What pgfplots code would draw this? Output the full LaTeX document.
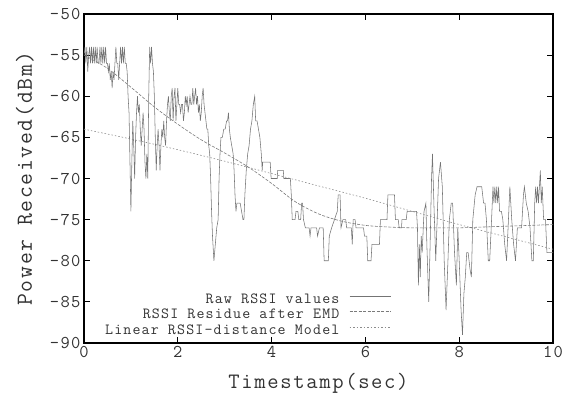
\documentclass[border=0pt]{standalone}
\usepackage{fontspec}
\usepackage{pgfplots}
\pgfplotsset{compat=1.18}
\newfontfamily\monofont{Latin Modern Mono}[LetterSpace=7.5]
\definecolor{txt}{HTML}{333333}
\definecolor{rawc}{HTML}{747474}
\definecolor{emdc}{HTML}{7A7A7A}
\definecolor{linc}{HTML}{8C8C8C}
\pgfplotstableread{
t v
0.00 -55
0.02 -54
0.04 -56
0.06 -54
0.08 -57
0.10 -55
0.12 -54
0.14 -56
0.16 -54
0.18 -56
0.20 -54
0.22 -56
0.24 -54
0.26 -56
0.28 -54
0.30 -56
0.32 -56
0.34 -54
0.36 -56
0.38 -54
0.40 -56
0.42 -54
0.44 -56
0.46 -54
0.48 -56
0.50 -56
0.52 -57
0.54 -56
0.56 -58
0.58 -57
0.60 -59
0.62 -57
0.64 -58
0.66 -56
0.68 -54
0.70 -56
0.72 -56
0.74 -58
0.76 -56
0.78 -54
0.80 -56
0.82 -54
0.84 -56
0.86 -54
0.88 -56
0.90 -56
0.92 -57
0.94 -60
0.96 -62
0.98 -68
1.00 -74
1.02 -68
1.04 -63
1.06 -66
1.08 -70
1.10 -65
1.12 -62
1.14 -60
1.16 -62
1.18 -61
1.20 -64
1.22 -66
1.24 -64
1.26 -62
1.28 -64
1.30 -68
1.32 -70
1.34 -67
1.36 -70
1.38 -60
1.40 -54
1.42 -56
1.44 -54
1.46 -56
1.48 -57
1.50 -60
1.52 -65
1.54 -69
1.56 -66
1.58 -64
1.60 -66
1.62 -69
1.64 -66
1.66 -64
1.68 -65
1.70 -63
1.72 -65
1.74 -66
1.76 -63
1.78 -61
1.80 -60
1.82 -62
1.84 -63
1.86 -60
1.88 -59
1.90 -63
1.92 -60
1.94 -59
1.96 -63
1.98 -61
2.00 -59
2.02 -61
2.04 -61
2.06 -62
2.08 -61
2.10 -61
2.12 -63
2.14 -62
2.16 -60
2.18 -61
2.20 -60
2.22 -62
2.24 -61
2.26 -60
2.28 -61
2.30 -61
2.32 -59
2.34 -61
2.36 -60
2.38 -59
2.40 -61
2.42 -60
2.44 -62
2.46 -61
2.48 -63
2.50 -62
2.52 -60
2.54 -59
2.56 -61
2.58 -62
2.60 -63
2.62 -64
2.64 -64
2.66 -66
2.68 -67
2.70 -70
2.72 -74
2.74 -77
2.77 -80
2.80 -78
2.83 -76
2.86 -75
2.88 -70
2.90 -67
2.92 -65
2.95 -65
2.98 -64
3.01 -64
3.04 -63
3.06 -63
3.08 -62
3.10 -64
3.12 -65
3.15 -66
3.18 -67
3.20 -69
3.22 -72
3.24 -74
3.26 -73
3.30 -73
3.33 -73
3.36 -74
3.39 -75
3.41 -75
3.43 -72
3.46 -69
3.49 -67
3.52 -66
3.55 -64
3.58 -63
3.61 -61
3.64 -60
3.66 -63
3.69 -63
3.72 -64
3.75 -65
3.78 -67
3.80 -69
3.81 -68
3.97 -68
3.99 -70
4.12 -70
4.13 -69
4.25 -69
4.26 -70
4.40 -70
4.42 -72
4.44 -75
4.50 -75
4.52 -74
4.56 -74
4.58 -75
4.62 -75
4.64 -73
4.66 -73
4.68 -75
4.72 -76
4.80 -76
4.82 -77
4.84 -76
4.96 -76
4.98 -77
5.02 -76
5.10 -76
5.12 -80
5.21 -80
5.23 -77
5.28 -76
5.34 -75
5.40 -74
5.42 -72
5.46 -72
5.48 -76
5.52 -75
5.58 -75
5.60 -76
5.70 -76
5.72 -78
5.74 -75
5.78 -75
5.80 -76
5.96 -76
5.98 -77
6.03 -77
6.05 -80
6.12 -80
6.14 -78
6.30 -78
6.32 -75
6.46 -75
6.48 -72
6.62 -72
6.64 -75
6.70 -75
6.72 -76
6.77 -76
6.78 -75
6.87 -75
6.89 -74
7.09 -74
7.11 -76
7.13 -83
7.15 -78
7.17 -82
7.19 -77
7.21 -79
7.25 -74
7.29 -73
7.31 -78
7.35 -85
7.38 -78
7.41 -70
7.43 -67
7.46 -73
7.50 -80
7.53 -75
7.56 -70
7.60 -68
7.64 -71
7.68 -80
7.72 -86
7.76 -80
7.79 -75
7.83 -73
7.86 -73
7.90 -79
7.94 -83
7.97 -76
8.00 -80
8.04 -86
8.07 -89
8.10 -84
8.13 -82
8.16 -79
8.19 -79
8.23 -81
8.26 -82
8.29 -75
8.34 -72
8.38 -71
8.45 -71
8.48 -71
8.52 -73
8.55 -73
8.58 -75
8.62 -80
8.65 -80
8.69 -75
8.72 -71
8.74 -73
8.76 -71
8.78 -73
8.80 -71
8.82 -73
8.84 -71
8.86 -74
8.90 -74
8.93 -75
8.97 -78
9.01 -80
9.05 -75
9.08 -71
9.12 -75
9.16 -78
9.20 -80
9.24 -76
9.29 -76
9.33 -76
9.37 -72
9.39 -71
9.43 -73
9.47 -74
9.51 -76
9.55 -80
9.58 -80
9.61 -73
9.63 -71
9.65 -73
9.67 -71
9.69 -73
9.71 -71
9.73 -69
9.75 -73
9.77 -71
9.80 -75
9.84 -75
9.87 -79
10.00 -79
}\rawdata
\pgfplotstableread{
t v
0.0 -55.0
0.5 -56.6
1.0 -58.9
1.5 -61.3
2.0 -63.4
2.5 -65.3
3.0 -66.9
3.5 -68.6
4.0 -70.6
4.5 -72.8
5.0 -74.3
5.5 -75.2
6.0 -75.7
6.5 -75.9
7.0 -76.0
7.5 -76.0
8.0 -76.0
8.5 -75.9
9.0 -75.8
9.5 -75.7
10.0 -75.6
}\emddata
\pgfplotstableread{
t v
0 -64.0
1 -65.2
2 -66.5
3 -67.9
4 -69.4
5 -70.9
6 -72.4
7 -74.0
8 -75.6
9 -77.1
10 -78.6
}\lindata
\begin{document}
\begin{tikzpicture}
\begin{axis}[
  width=469pt, height=329pt, scale only axis,
  xmin=0, xmax=10, ymin=-90, ymax=-50,
  xtick={0,2,4,6,8,10}, ytick={-90,-85,-80,-75,-70,-65,-60,-55,-50},
  tick align=inside, major tick length=6pt,
  axis line style={line width=1.1pt},
  every tick/.style={black, line width=0.8pt},
  /pgf/number format/assume math mode=true,
  tick label style={font=\monofont\fontsize{18}{18}\selectfont, text=txt},
  xlabel={Timestamp(sec)}, ylabel={Power Received(dBm)},
  xlabel style={font=\monofont\fontsize{22}{22}\selectfont, text=txt, at={(axis description cs:0.5,-0.124)}, anchor=center},
  ylabel style={font=\monofont\fontsize{23}{23}\selectfont, text=txt, at={(axis description cs:-0.126,0.5)}, anchor=center, rotate=0},
  legend plot pos=right,
  legend cell align=right,
  legend style={draw=none, fill=none, at={(0.655,0.012)}, anchor=south east,
    font=\monofont\fontsize{15.5}{15.5}\selectfont, text=txt,
    inner sep=0pt, column sep=10pt, row sep=0pt,
    nodes={inner sep=0pt, text height=11pt, text depth=4.6pt}},
  legend image code/.code={\draw[#1] (0pt,4pt) -- (41pt,4pt);},
]
\addplot[rawc, line width=0.55pt] table[x=t,y=v] {\rawdata};
\addlegendentry{Raw RSSI values}
\addplot[emdc, line width=0.6pt, dash pattern=on 3pt off 1.5pt, smooth] table[x=t,y=v] {\emddata};
\addlegendentry{RSSI Residue after EMD}
\addplot[linc, line width=0.6pt, dash pattern=on 1.5pt off 2pt, smooth] table[x=t,y=v] {\lindata};
\addlegendentry{Linear RSSI-distance Model}
\end{axis}
\pgfresetboundingbox
\path[use as bounding box] (current axis.south west) ++(-84pt,-53pt) rectangle ([xshift=21pt,yshift=14pt]current axis.north east);
\end{tikzpicture}
\end{document}
